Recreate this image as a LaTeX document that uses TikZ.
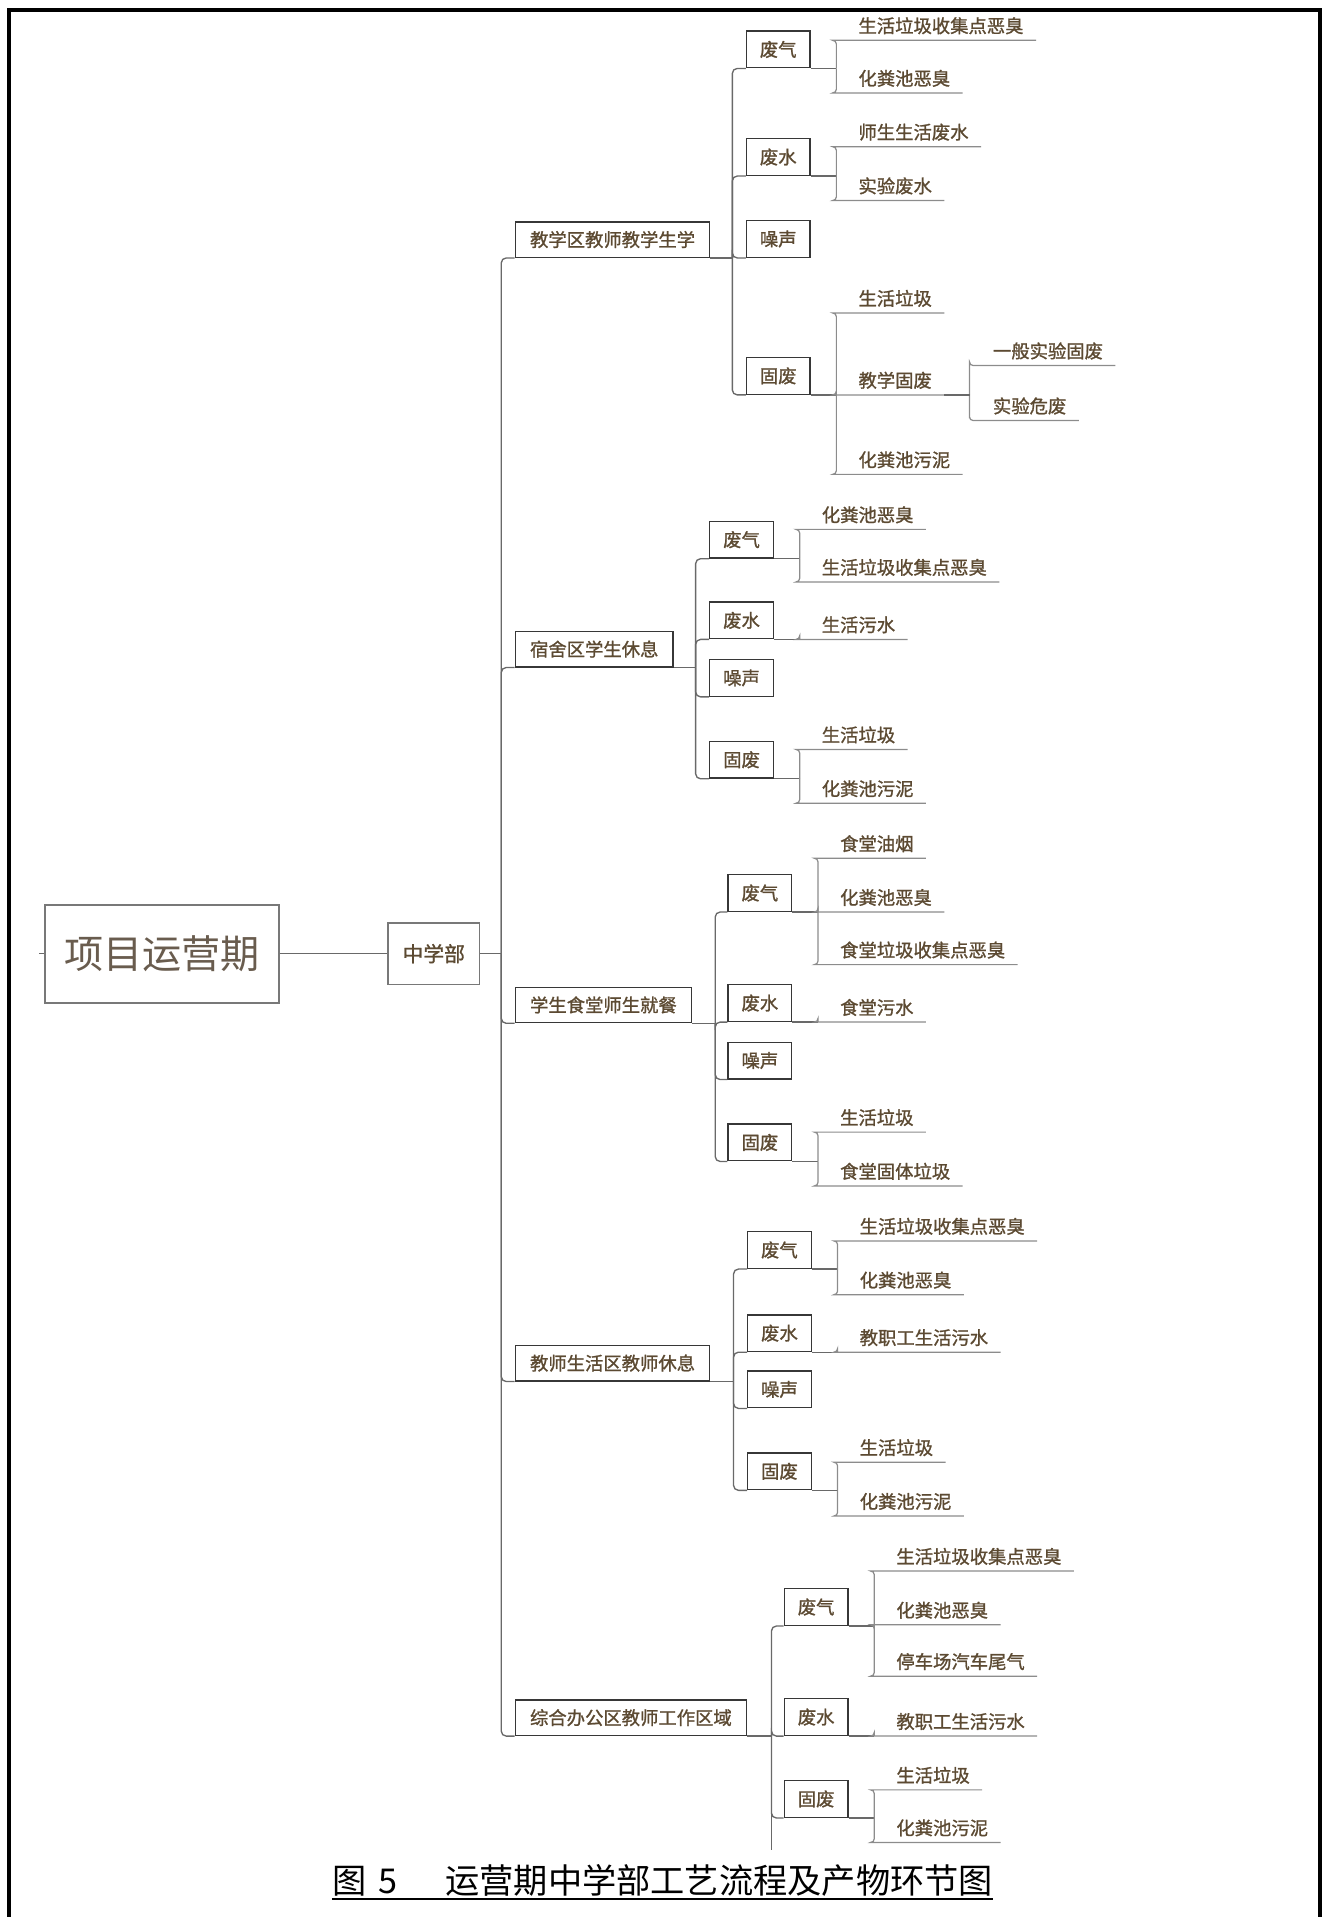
\documentclass[tikz,border=0pt]{standalone}
\usepackage{fontspec}
\newfontfamily\cjk{Noto Sans CJK SC}
\newfontfamily\cjkheavy[FakeBold=1.2]{Noto Sans CJK SC}
\usetikzlibrary{positioning}

\definecolor{txtbrown}{RGB}{92,74,50}
\definecolor{roottext}{RGB}{105,92,78}
\definecolor{trunkgray}{RGB}{105,105,105}
\definecolor{twiggray}{RGB}{140,140,140}
\definecolor{boxline}{RGB}{55,55,55}
\definecolor{rootline}{RGB}{120,120,120}
\newcommand\smallcn{\cjkheavy\fontsize{15}{15}\selectfont}

\begin{document}
\begin{tikzpicture}[x=1pt,y=-1pt,
    frame/.style={line width=3.3pt,line join=miter},
    rootbox/.style={draw=rootline,line width=1.6pt,minimum width=191pt,minimum height=80pt,
        font=\cjk\fontsize{32}{32}\selectfont,text=roottext},
    deptbox/.style={draw=rootline,line width=1pt,minimum width=75pt,minimum height=50pt,
        font=\cjkheavy\fontsize{17}{17}\selectfont,text=txtbrown},
    areabox/.style={draw=boxline,line width=1.1pt,anchor=south west,inner xsep=12pt,
        minimum height=29pt,font=\smallcn,text=txtbrown},
    kindbox/.style={draw=boxline,line width=1.1pt,anchor=south west,inner sep=0pt,
        minimum width=52pt,minimum height=30pt,font=\smallcn,text=txtbrown},
    leaf/.style={anchor=south west,inner xsep=0pt,inner ysep=6pt,text depth=0pt,
        font=\smallcn,text=txtbrown,
        execute at begin node={\hspace*{19pt}},execute at end node={\hspace*{10pt}}},
    conn/.style={draw=trunkgray,line width=1.1pt,rounded corners=4pt},
    twig/.style={draw=twiggray,line width=1pt,rounded corners=3pt},
    caption/.style={inner sep=0pt,font=\cjk\fontsize{28}{28}\selectfont}]

\useasboundingbox (0,0) rectangle (1085,1568);
\draw[frame] (7,1568) |- (1080,8.5) -- (1080,1568);

% root and department
\node[rootbox] (root) at (132.5,780) {项目运营期};
\coordinate (stub) at (32,780);
\node[deptbox,right=88pt of root] (dept) {中学部};
\coordinate (trunk) at (410,780);
\draw[conn] (stub) -- (root.west);
\draw[conn] (root) -- (dept);
\draw[conn] (dept) -- (trunk);

% areas
\foreach \nm/\yy/\jx/\txt in {a1/211/599/教学区教师教学生学,a2/546/569/宿舍区学生休息,
    a3/837/585/学生食堂师生就餐,a4/1130/600/教师生活区教师休息,a5/1420/631/综合办公区教师工作区域}{
  \node[areabox] (\nm) at (421,\yy) {\txt};
  \coordinate (j\nm) at (\jx,\yy);
  \draw[conn] (trunk) |- (\nm.south west);
  \draw[conn] (\nm.south east) -- (j\nm);
}
\coordinate (cut) at (631,1513);
\draw[conn] (ja5) -- (cut);

% kinds of output
\foreach \nm/\up/\x/\yy/\txt in {k11/a1/610/56/废气,k12/a1/610/144/废水,k13/a1/610/211/噪声,k14/a1/610/323/固废,
    k21/a2/580/457/废气,k22/a2/580/523/废水,k23/a2/580/570/噪声,k24/a2/580/637/固废,
    k31/a3/595/746/废气,k32/a3/595/836/废水,k33/a3/595/883/噪声,k34/a3/595/950/固废,
    k41/a4/611/1038/废气,k42/a4/611/1106/废水,k43/a4/611/1152/噪声,k44/a4/611/1219/固废,
    k51/a5/641/1330/废气,k52/a5/641/1420/废水,k53/a5/641/1487/固废}{
  \node[kindbox] (\nm) at (\x,\yy) {\txt};
  \draw[conn] (j\up) |- (\nm.south west);
}
\foreach \nm in {k11,k12,k14,k21,k22,k24,k31,k32,k34,k41,k42,k44,k51,k52,k53}{
  \coordinate (j\nm) at ([xshift=21pt]\nm.south east);
  \draw[conn] (\nm.south east) -- (j\nm);
}
\coordinate (jl142) at (793,323);

% outputs
\foreach \nm/\up/\x/\u/\txt in {l111/k11/683/33/生活垃圾收集点恶臭,l112/k11/683/76/化粪池恶臭,
    l121/k12/683/120/师生生活废水,l122/k12/683/164/实验废水,
    l141/k14/683/256/生活垃圾,l142/k14/683/323/教学固废,l143/k14/683/388/化粪池污泥,
    l1421/l142/793/299/一般实验固废,l1422/l142/793/344/实验危废,
    l211/k21/653/433/化粪池恶臭,l212/k21/653/476/生活垃圾收集点恶臭,
    l221/k22/653/523/生活污水,
    l241/k24/653/613/生活垃圾,l242/k24/653/657/化粪池污泥,
    l311/k31/668/702/食堂油烟,l312/k31/668/746/化粪池恶臭,l313/k31/668/789/食堂垃圾收集点恶臭,
    l321/k32/668/836/食堂污水,
    l341/k34/668/926/生活垃圾,l342/k34/668/970/食堂固体垃圾,
    l411/k41/684/1015/生活垃圾收集点恶臭,l412/k41/684/1059/化粪池恶臭,
    l421/k42/684/1106/教职工生活污水,
    l441/k44/684/1196/生活垃圾,l442/k44/684/1240/化粪池污泥,
    l511/k51/714/1285/生活垃圾收集点恶臭,l512/k51/714/1329/化粪池恶臭,l513/k51/714/1371/停车场汽车尾气,
    l521/k52/714/1420/教职工生活污水,
    l531/k53/714/1464/生活垃圾,l532/k53/714/1507/化粪池污泥}{
  \node[leaf] (\nm) at (\x,\u) {\txt};
  \draw[twig] (j\up) |- (\nm.south west) -- (\nm.south east);
}
\draw[conn] (l142.south east) -- (jl142);

% caption
\node[caption,anchor=base] (cap) at (542,1549) {图\hspace{0.35em}5\hspace{1.4em}运营期中学部工艺流程及产物环节图};
\draw[line width=1.4pt] ([yshift=-4pt]cap.base west) -- ([yshift=-4pt]cap.base east);
\end{tikzpicture}
\end{document}
